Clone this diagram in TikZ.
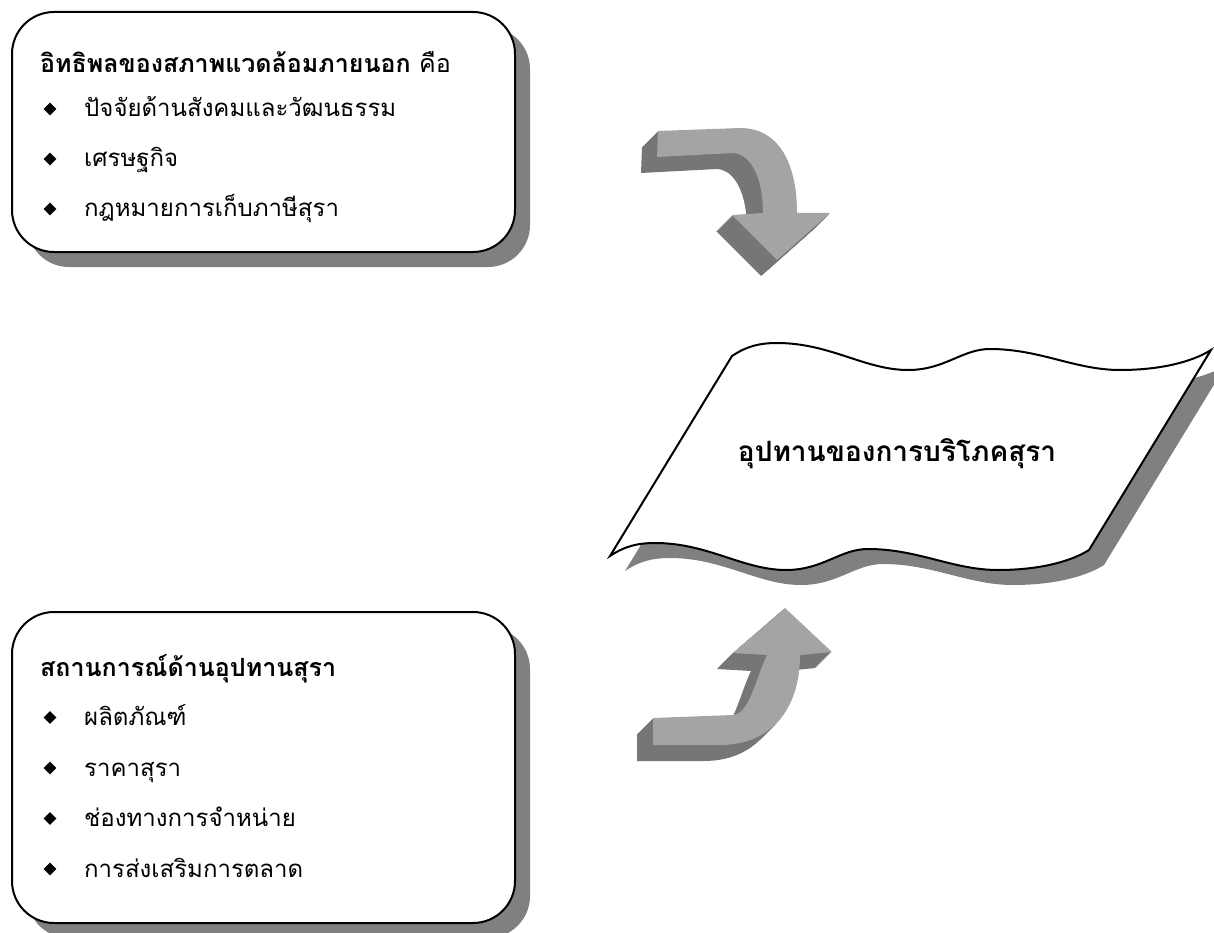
\documentclass[tikz,border=0pt]{standalone}
\usepackage{fontspec}
\setmainfont[Script=Thai]{Loma}
\usetikzlibrary{shapes.geometric}
\usetikzlibrary{shadows}
\usetikzlibrary{positioning}

\definecolor{shadowgray}{HTML}{808080}
\definecolor{facegray}{HTML}{A4A4A4}
\definecolor{sidegray}{HTML}{767676}

\def\bendDownPath{(658,131) -- (740,128) .. controls (780,128) and (797,165) .. (797,213)
  -- (830,213) -- (777,260) -- (732,215) -- (763,213)
  .. controls (763,180) and (752,154) .. (733,153) -- (657,157) -- cycle}
\def\bendUpPath{(653,718) -- (733,715) .. controls (750,713) and (755,680) .. (767,655)
  -- (733,653) -- (785,608) -- (832,652) -- (800,655)
  .. controls (800,710) and (770,745) .. (720,745) -- (653,745) -- cycle}
\def\bannerPath{(732,356) .. controls (747,346) and (760,343) .. (777,343)
  .. controls (830,343) and (865,370) .. (908,370)
  .. controls (945,370) and (962,349) .. (990,349)
  .. controls (1040,349) and (1075,370) .. (1120,370)
  .. controls (1160,370) and (1192,362) .. (1211,350)
  -- (1089,550) .. controls (1070,562) and (1038,570) .. (998,570)
  .. controls (953,570) and (918,549) .. (868,549)
  .. controls (840,549) and (823,570) .. (786,570)
  .. controls (743,570) and (708,543) .. (655,543)
  .. controls (638,543) and (625,546) .. (610,556) -- cycle}

\begin{document}
\begin{tikzpicture}[x=1pt, y=-1pt,
roundbox/.style={draw, line width=2pt, rounded corners=42pt, fill=white,
  minimum width=503pt,
  drop shadow={shadow xshift=15pt, shadow yshift=-15pt, fill=shadowgray, opacity=1}},
headtext/.style={anchor=base west, inner sep=0pt, font=\fontsize{25}{29}\selectfont},
itemtext/.style={anchor=base west, inner sep=0pt, font=\fontsize{24}{28}\selectfont},
bannertext/.style={anchor=base, inner sep=0pt, font=\fontsize{28}{32}\selectfont\bfseries},
bulletmark/.style={diamond, fill=black, inner sep=0pt, minimum size=13pt},
arrowside/.style={fill=sidegray},
arrowface/.style={fill=facegray}]
\useasboundingbox (0,0) rectangle (1214,933);

% external factors
\node[roundbox, minimum height=240pt] (extBox) at (263.5,132) {};
\node[headtext] (extTitle) at (40,73) {\textbf{อิทธิพลของสภาพแวดล้อมภายนอก} คือ};
\foreach \txt [count=\i] in {ปัจจัยด้านสังคมและวัฒนธรรม, เศรษฐกิจ, กฎหมายการเก็บภาษีสุรา}{
  \node[bulletmark] (extB\i) at (50,{59+50*\i}) {};
  \node[itemtext] (extI\i) at (84,{67+50*\i}) {\txt};
}

% supply situation
\node[roundbox, minimum height=311pt] (supBox) at (263.5,767.5) {};
\node[headtext] (supTitle) at (40,676) {\textbf{สถานการณ์ด้านอุปทานสุรา}};
\foreach \txt [count=\i] in {ผลิตภัณฑ์, ราคาสุรา, ช่องทางการจำหน่าย, การส่งเสริมการตลาด}{
  \node[bulletmark] (supB\i) at (50,{667+50.5*\i}) {};
  \node[itemtext] (supI\i) at (84,{675+50.5*\i}) {\txt};
}

% banner
\fill[shadowgray, shift={(15,15)}] \bannerPath;
\draw[line width=2pt, fill=white] \bannerPath;
\node[bannertext] (supply) at (897,461) {อุปทานของการบริโภคสุรา};

% bent arrows
\foreach \d in {1,...,16}{
  \fill[arrowside, shift={(-\d,\d)}] \bendDownPath;
  \fill[arrowside, shift={(-\d,\d)}] \bendUpPath;
}
\fill[arrowface] \bendDownPath;
\fill[arrowface] \bendUpPath;
\end{tikzpicture}
\end{document}
